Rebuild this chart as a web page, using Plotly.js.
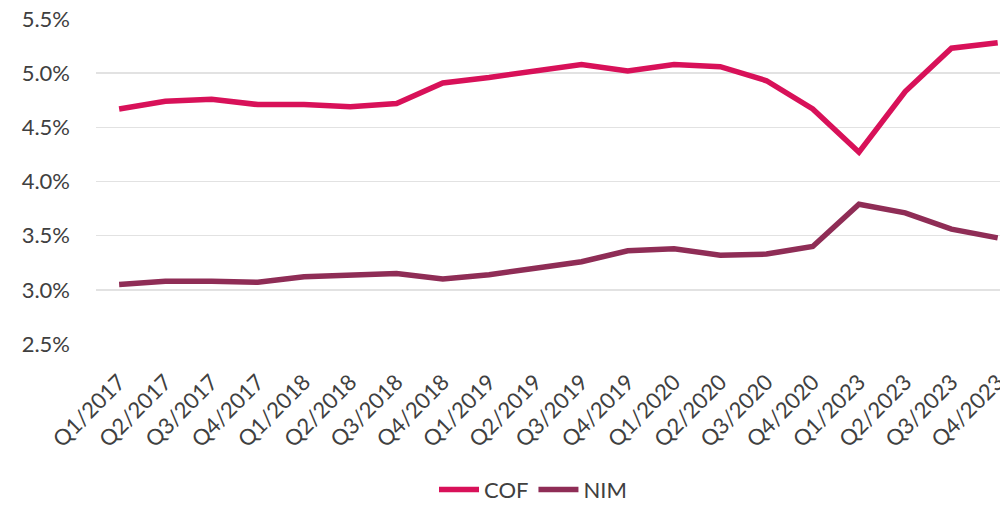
<!DOCTYPE html>
<html>
<head>
<meta charset="utf-8">
<script src="https://cdn.plot.ly/plotly-3.0.1.min.js"></script>
<style>
  html, body { margin: 0; padding: 0; background: #fff; }
  #plot { width: 1000px; height: 506px; }
</style>
</head>
<body>
<div id="plot"></div>
<script>
// quarters on the category axis
const quarters = [
  "Q1/2017", "Q2/2017", "Q3/2017", "Q4/2017",
  "Q1/2018", "Q2/2018", "Q3/2018", "Q4/2018",
  "Q1/2019", "Q2/2019", "Q3/2019", "Q4/2019",
  "Q1/2020", "Q2/2020", "Q3/2020", "Q4/2020",
  "Q1/2023", "Q2/2023", "Q3/2023", "Q4/2023"
];

// values in %
const cof = [4.67, 4.74, 4.76, 4.71, 4.71, 4.69, 4.72, 4.91,
             4.96, 5.02, 5.08, 5.02, 5.08, 5.06, 4.93, 4.67,
             4.27, 4.83, 5.23, 5.28];
const nim = [3.05, 3.08, 3.08, 3.07, 3.12, 3.14, 3.15, 3.10,
             3.14, 3.20, 3.26, 3.36, 3.38, 3.32, 3.33, 3.40,
             3.79, 3.71, 3.56, 3.48];

const yTicks = [2.5, 3.0, 3.5, 4.0, 4.5, 5.0, 5.5];

function makePlot() {
  const idx = quarters.map((_, i) => i);

  const traces = [
    {
      x: idx,
      y: cof,
      mode: "lines",
      name: "COF",
      line: { color: "#D81159", width: 5.5 },
    },
    {
      x: idx,
      y: nim,
      mode: "lines",
      name: "NIM",
      line: { color: "#8F2D56", width: 5.5 },
    },
  ];

  const layout = {
    width: 1000,
    height: 506,
    margin: { l: 96, r: 0, t: 19, b: 162 },
    paper_bgcolor: "#fff",
    plot_bgcolor: "#fff",
    font: { family: "Lato, sans-serif", size: 22, color: "#404040" },
    showlegend: true,
    legend: {
      orientation: "h",
      xref: "container",
      yref: "container",
      x: 0.533,
      xanchor: "center",
      y: 0.032,
      yanchor: "middle",
      font: { size: 22, color: "#404040" },
      itemwidth: 40,
    },
    xaxis: {
      range: [-0.5, 19.05],
      tickmode: "array",
      tickvals: idx,
      ticktext: quarters,
      tickangle: -45,
      showgrid: false,
      zeroline: false,
      showline: false,
      ticks: "",
      automargin: false,
      ticklabeloverflow: "allow",
      ticklabelstandoff: 20,
      tickfont: { size: 22 },
    },
    yaxis: {
      range: [2.5, 5.5],
      tickmode: "array",
      tickvals: yTicks,
      ticktext: yTicks.map((v) => v.toFixed(1) + "%"),
      showgrid: true,
      gridcolor: "#e2e2e2",
      gridwidth: 1.5,
      zeroline: false,
      showline: false,
      ticks: "",
      automargin: false,
      ticklabelstandoff: 25,
    },
  };

  Plotly.newPlot("plot", traces, layout, { displayModeBar: false, staticPlot: true });
}

makePlot();
</script>
</body>
</html>
